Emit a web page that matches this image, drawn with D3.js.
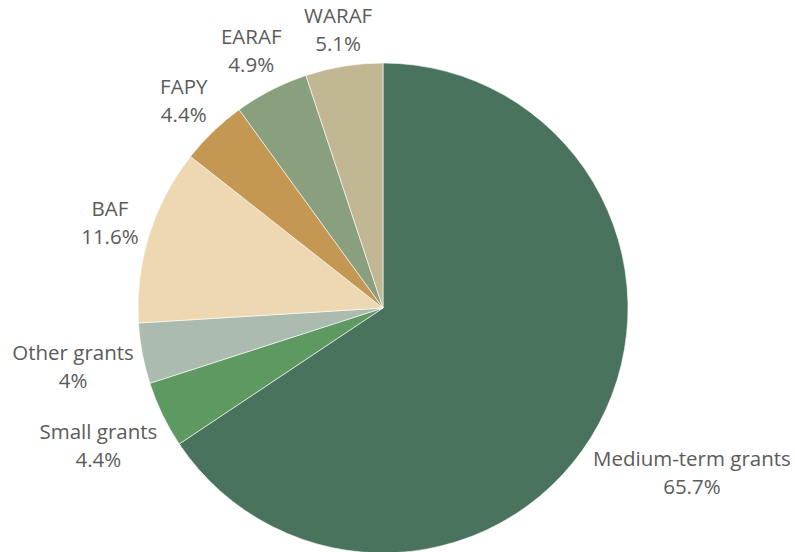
<!DOCTYPE html>
<html lang="en">
<head>
  <meta charset="UTF-8">
  <title>Grants pie</title>
  <script src="https://cdn.jsdelivr.net/npm/d3@7/dist/d3.min.js"></script>
  <style>
    body{ margin:0; background:#fff; }
    .chart text{ font-family: "Open Sans", "Noto Sans", sans-serif; fill:#5b5b5b; }
  </style>
</head>
<body>
<div class="chart"></div>
<script>
  // data, clockwise from 12 o'clock
  const categories = ['Medium-term grants', 'Small grants', 'Other grants', 'BAF', 'FAPY', 'EARAF', 'WARAF'];
  const shares = [65.7, 4.4, 4, 11.6, 4.4, 4.9, 5.1];
  const shareLabels = ['65.7%', '4.4%', '4%', '11.6%', '4.4%', '4.9%', '5.1%'];
  const colors = ['#4a735e', '#5d9960', '#abbbb0', '#edd8b2', '#c49753', '#8a9f7e', '#c1b793'];

  let chart = {
    size: {w: 795, h: 552},
    cx: 383, cy: 308, r: 245,
    gap: 5, fontSize: 20.5, lineH: 28
  };

  const slices = categories.map((c, i) => ({name: c, value: shares[i], label: shareLabels[i], color: colors[i]}));

  let pie = d3.pie().sort(null).value(d => d.value);
  let arc = d3.arc().innerRadius(0).outerRadius(chart.r);

  let svg = d3.select('.chart')
    .append('svg')
    .attr('width', chart.size.w)
    .attr('height', chart.size.h);

  let g = svg.append('g')
    .attr('transform', `translate(${chart.cx},${chart.cy})`);

  let arcs = pie(slices);

  g.selectAll('path')
    .data(arcs)
    .enter()
    .append('path')
    .attr('d', arc)
    .attr('fill', d => d.data.color)
    .attr('stroke', '#ffffff')
    .attr('stroke-width', 0.6);

  // labels: two lines, pushed out along the mid angle until the box clears the pie
  let labels = g.selectAll('g.lbl')
    .data(arcs)
    .enter()
    .append('g')
    .attr('class', 'lbl');

  let txt = labels.append('text')
    .attr('text-anchor', 'middle')
    .style('font-size', chart.fontSize + 'px');
  txt.append('tspan').attr('x', 0).attr('y', -chart.lineH / 2).attr('dy', '0.35em').text(d => d.data.name);
  txt.append('tspan').attr('x', 0).attr('y', chart.lineH / 2).attr('dy', '0.35em').text(d => d.data.label);

  labels.each(function(d) {
    let bb = this.getBBox();
    let hw = bb.width / 2 + 1, hh = chart.lineH * 2;
    let a = (d.startAngle + d.endAngle) / 2;
    let dx = Math.sin(a), dy = -Math.cos(a);
    let target = chart.r + chart.gap;
    let dist = t => {
      let x = t * dx, y = t * dy;
      let nx = Math.max(x - hw, Math.min(0, x + hw));
      let ny = Math.max(y - hh / 2, Math.min(0, y + hh / 2));
      return Math.hypot(nx, ny);
    };
    let lo = 0, hi = 600;
    for (let k = 0; k < 40; k++) {
      let m = (lo + hi) / 2;
      if (dist(m) < target) lo = m; else hi = m;
    }
    d3.select(this).attr('transform', `translate(${hi * dx},${hi * dy})`);
  });
</script>
</body>
</html>
